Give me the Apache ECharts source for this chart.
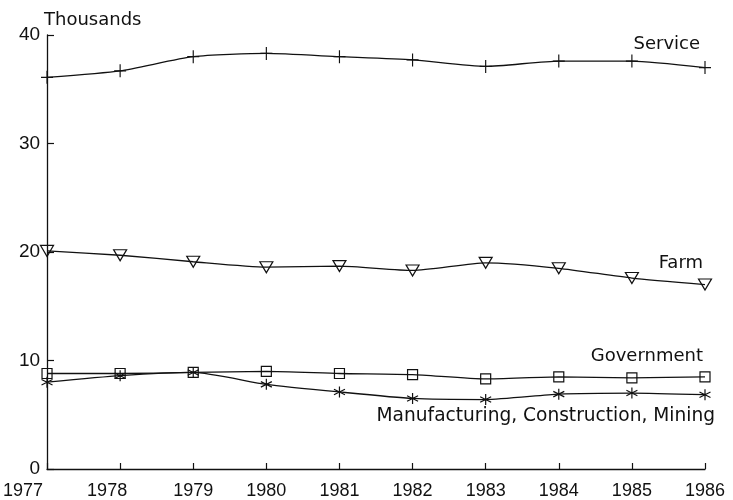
<!DOCTYPE html>
<html>
<head>
<meta charset="utf-8">
<script src="https://cdn.jsdelivr.net/npm/echarts@6/dist/echarts.min.js"></script>
<style>
html,body{margin:0;padding:0;background:#fff;}
#chart{width:733px;height:500px;}
</style>
</head>
<body>
<div id="chart"></div>
<script>
var years = ['1977','1978','1979','1980','1981','1982','1983','1984','1985','1986'];
var yTicks = [0, 10, 20, 30, 40];
var service = [36.1, 36.7, 38.0, 38.3, 38.0, 37.7, 37.1, 37.6, 37.6, 37.0];
var farm = [20.1, 19.7, 19.1, 18.6, 18.7, 18.3, 19.0, 18.5, 17.6, 17.0];
var government = [8.8, 8.8, 8.9, 9.0, 8.8, 8.7, 8.3, 8.5, 8.4, 8.5];
var manufacturing = [8.0, 8.6, 8.9, 7.8, 7.1, 6.5, 6.4, 6.9, 7.0, 6.85];
var seriesNames = ['Service', 'Farm', 'Government', 'Manufacturing, Construction, Mining'];
var yAxisTitle = 'Thousands';

var FONT = '"Liberation Sans", Arial, sans-serif';
var LFONT = '"DejaVu Sans", sans-serif';
var ink = '#111';

var symbols = {
  cross: 'path://M6,0L6,12M0,6L12,6',
  tri: 'path://M0,0L12,0L6,10Z',
  square: 'path://M0,0L10,0L10,10L0,10Z',
  star: 'path://M5,0L5,10M0.7,2.5L9.3,7.5M0.7,7.5L9.3,2.5'
};

function mk(name, data, sym, size) {
  return {
    name: name,
    type: 'line',
    data: data,
    smooth: 0.2,
    symbol: sym,
    symbolSize: size,
    showAllSymbol: true,
    lineStyle: {color: ink, width: 1.3},
    itemStyle: {color: 'rgba(0,0,0,0)', borderColor: ink, borderWidth: 1.2},
    emphasis: {disabled: true},
    animation: false
  };
}

var labelPad = {'1977': 48, '1978': 26};

var chart = echarts.init(document.getElementById('chart'), null, {renderer: 'canvas'});
chart.setOption({
  backgroundColor: '#fff',
  animation: false,
  grid: {left: 43, right: 28, top: 35, bottom: 29, containLabel: false},
  xAxis: {
    type: 'category',
    data: years,
    boundaryGap: false,
    axisLine: {lineStyle: {color: ink, width: 1.3}},
    axisTick: {inside: true, length: 6, lineStyle: {color: ink, width: 1.2}, alignWithLabel: true},
    axisLabel: {
      color: ink, fontFamily: FONT, fontSize: 18, margin: 13, interval: 0,
      formatter: function (v) { return labelPad[v] ? '{p' + labelPad[v] + '|' + v + '}' : v; },
      rich: {
        p48: {padding: [0, 48, 0, 0], fontFamily: FONT, fontSize: 18, color: ink},
        p26: {padding: [0, 26, 0, 0], fontFamily: FONT, fontSize: 18, color: ink}
      }
    },
    splitLine: {show: false}
  },
  yAxis: {
    type: 'value',
    min: yTicks[0], max: yTicks[yTicks.length - 1], interval: 10,
    axisLine: {show: true, lineStyle: {color: ink, width: 1.3}},
    axisTick: {show: true, inside: true, length: 7, lineStyle: {color: ink, width: 1.2}},
    axisLabel: {color: ink, fontFamily: FONT, fontSize: 19, margin: 7},
    splitLine: {show: false}
  },
  series: [
    mk(seriesNames[0], service, symbols.cross, [12, 13]),
    mk(seriesNames[1], farm, symbols.tri, [13, 11]),
    mk(seriesNames[2], government, symbols.square, [10, 10]),
    mk(seriesNames[3], manufacturing, symbols.star, [11, 11])
  ],
  graphic: [
    {type: 'text', x: 44, y: 20, style: {text: yAxisTitle, font: '18px ' + LFONT, fill: ink, align: 'left', verticalAlign: 'middle'}},
    {type: 'text', x: 700, y: 44, style: {text: seriesNames[0], font: '18px ' + LFONT, fill: ink, align: 'right', verticalAlign: 'middle'}},
    {type: 'text', x: 703, y: 263, style: {text: seriesNames[1], font: '18px ' + LFONT, fill: ink, align: 'right', verticalAlign: 'middle'}},
    {type: 'text', x: 703, y: 356, style: {text: seriesNames[2], font: '18px ' + LFONT, fill: ink, align: 'right', verticalAlign: 'middle'}},
    {type: 'text', x: 715, y: 416, style: {text: seriesNames[3], font: '18.6px ' + LFONT, fill: ink, align: 'right', verticalAlign: 'middle'}}
  ]
});
</script>
</body>
</html>
